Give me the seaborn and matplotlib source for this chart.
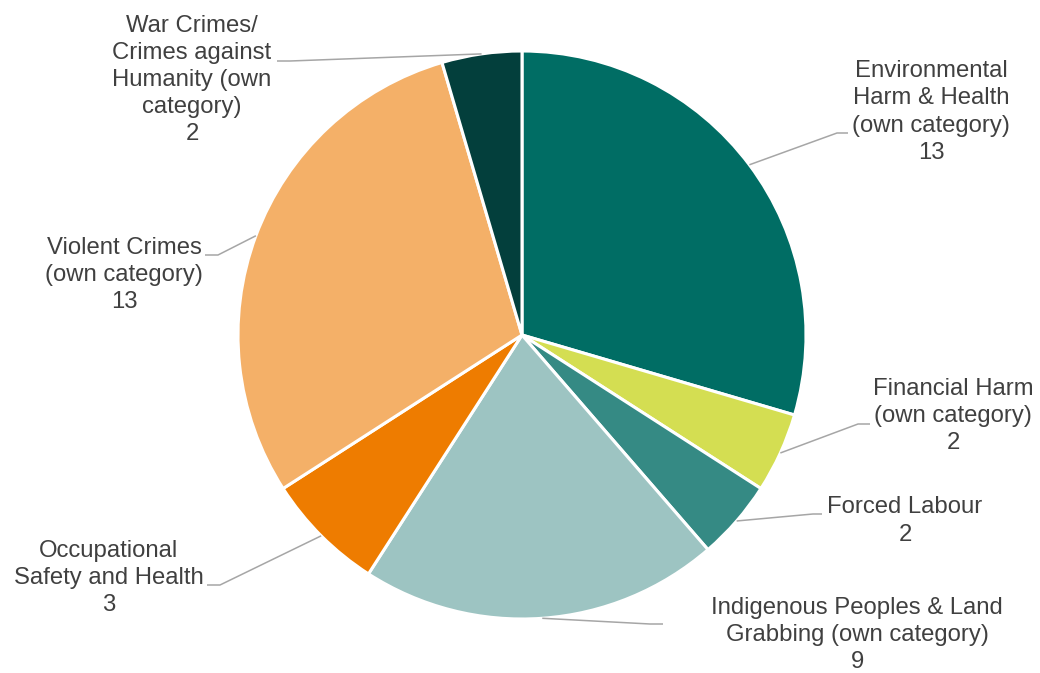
import numpy as np
import matplotlib
matplotlib.use("Agg")
import matplotlib.pyplot as plt
import seaborn as sns

# Categories and counts, clockwise from 12 o'clock
categories = [
    "Environmental\nHarm & Health\n(own category)",
    "Financial Harm\n(own category)",
    "Forced Labour",
    "Indigenous Peoples & Land\nGrabbing (own category)",
    "Occupational\nSafety and Health",
    "Violent Crimes\n(own category)",
    "War Crimes/\nCrimes against\nHumanity (own\ncategory)",
]
counts = [13, 2, 2, 9, 3, 13, 2]
colors = ["#006D64", "#D4DE52", "#358A84", "#9DC4C2", "#EE7C00", "#F4B068", "#033F3C"]

sns.set_theme(style="white")
plt.rcParams["font.family"] = ["Liberation Sans", "DejaVu Sans"]

W, H = 1040, 673
fig = plt.figure(figsize=(W / 100, H / 100), dpi=100)
ax = fig.add_axes([0, 0, 1, 1])

cx, cy, R = 522, H - 335, 284
wedges, _ = ax.pie(
    counts,
    colors=sns.color_palette(colors),
    startangle=90,
    counterclock=False,
    center=(cx, cy),
    radius=R,
    wedgeprops=dict(edgecolor="white", linewidth=2.2),
)
ax.set_xlim(0, W)
ax.set_ylim(0, H)
ax.set_aspect("equal")
ax.axis("off")

# Label layout in pixel space (top-left origin): text centre, leader elbow, leader end
label_layout = [
    ((931, 112), (837, 133), (848, 133)),
    ((953, 416), (858, 424), (870, 424)),
    ((905, 521), (813, 514), (822, 514)),
    ((857, 635), (650, 624), (663, 624)),
    ((109, 578), (220, 585), (207, 585)),
    ((124, 275), (218, 255), (205, 255)),
    ((192, 80), (290, 61), (277, 61)),
]

for w, cat, n, (tpos, elbow, end) in zip(wedges, categories, counts, label_layout):
    mid = np.deg2rad((w.theta1 + w.theta2) / 2)
    sx, sy = cx + R * np.cos(mid), cy + R * np.sin(mid)
    xs = [sx, elbow[0], end[0]]
    ys = [sy, H - elbow[1], H - end[1]]
    ax.plot(xs, ys, color="#A6A6A6", lw=1.1, solid_capstyle="butt", zorder=1)
    ax.text(tpos[0], H - tpos[1], f"{cat}\n{n}", ha="center", va="center",
            multialignment="center", fontsize=17.2, linespacing=1.3,
            color="#404040")

fig.savefig("out.png", dpi=100)
